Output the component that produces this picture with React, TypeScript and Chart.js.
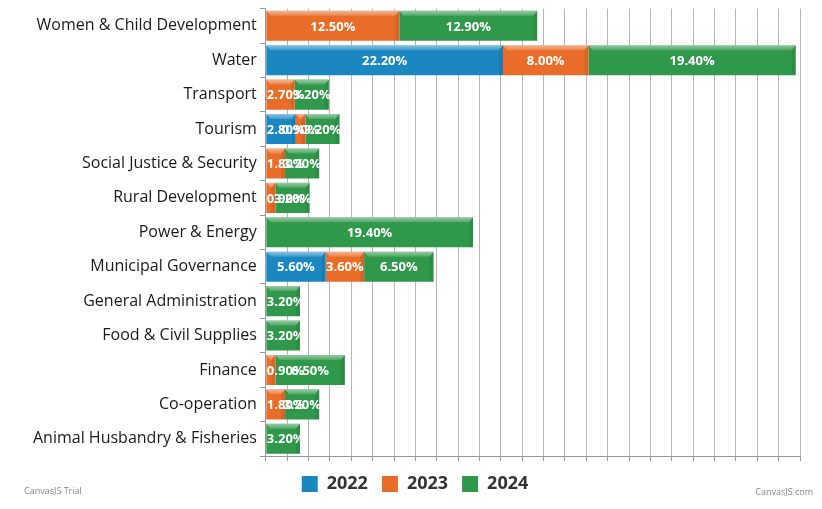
import React, { useEffect, useRef } from 'react';
import { Chart, registerables } from 'chart.js';

Chart.register(...registerables);

const categories = [
  'Women & Child Development',
  'Water',
  'Transport',
  'Tourism',
  'Social Justice & Security',
  'Rural Development',
  'Power & Energy',
  'Municipal Governance',
  'General Administration',
  'Food & Civil Supplies',
  'Finance',
  'Co-operation',
  'Animal Husbandry & Fisheries',
];

const values2022 = [0, 22.2, 0, 2.8, 0, 0, 0, 5.6, 0, 0, 0, 0, 0];
const values2023 = [12.5, 8.0, 2.7, 0.9, 1.8, 0.9, 0, 3.6, 0, 0, 0.9, 1.8, 0];
const values2024 = [12.9, 19.4, 3.2, 3.2, 3.2, 3.2, 19.4, 6.5, 3.2, 3.2, 6.5, 3.2, 3.2];

const seriesNames = ['2022', '2023', '2024'];
const seriesColors = ['#1a87c1', '#e96d28', '#30984a'];

const FONT = "'Open Sans', sans-serif";

// lighter top edge, like the bevel on the original bars
const bevelPlugin = {
  id: 'bevel',
  afterDatasetsDraw(chart: any) {
    const ctx = chart.ctx;
    chart.data.datasets.forEach((ds: any, i: number) => {
      const meta = chart.getDatasetMeta(i);
      meta.data.forEach((bar: any, j: number) => {
        if (!ds.data[j]) return;
        const left = Math.min(bar.base, bar.x);
        const right = Math.max(bar.base, bar.x);
        const top = bar.y - bar.height / 2;
        const bottom = bar.y + bar.height / 2;
        const d = Math.min(4, (right - left) / 2);
        ctx.save();
        const g = ctx.createLinearGradient(0, top, 0, top + 5);
        g.addColorStop(0, 'rgba(255,255,255,0.5)');
        g.addColorStop(1, 'rgba(255,255,255,0.15)');
        ctx.fillStyle = g;
        ctx.beginPath();
        ctx.moveTo(left, top);
        ctx.lineTo(right, top);
        ctx.lineTo(right - d, top + 5);
        ctx.lineTo(left + d, top + 5);
        ctx.closePath();
        ctx.fill();
        ctx.fillStyle = 'rgba(0,0,0,0.07)';
        ctx.beginPath();
        ctx.moveTo(right, top);
        ctx.lineTo(right, bottom);
        ctx.lineTo(right - d, bottom);
        ctx.lineTo(right - d, top + 5);
        ctx.closePath();
        ctx.fill();
        ctx.restore();
      });
    });
  },
};

// value labels centred in each segment, kept inside the plot area
const valueLabelPlugin = {
  id: 'valueLabels',
  afterDatasetsDraw(chart: any) {
    const ctx = chart.ctx;
    const area = chart.chartArea;
    ctx.save();
    ctx.font = `bold 13px ${FONT}`;
    ctx.fillStyle = '#ffffff';
    ctx.textAlign = 'center';
    ctx.textBaseline = 'middle';
    chart.data.datasets.forEach((ds: any, i: number) => {
      const meta = chart.getDatasetMeta(i);
      meta.data.forEach((bar: any, j: number) => {
        const v = ds.data[j];
        if (!v) return;
        const text = v.toFixed(2) + '%';
        const w = ctx.measureText(text).width;
        const x = Math.max((bar.x + bar.base) / 2, area.left + w / 2 + 1);
        ctx.fillText(text, x, bar.y + 1);
      });
    });
    ctx.restore();
  },
};

const creditPlugin = {
  id: 'credits',
  afterDraw(chart: any) {
    const ctx = chart.ctx;
    ctx.save();
    ctx.font = `9px ${FONT}`;
    ctx.fillStyle = '#888';
    ctx.textBaseline = 'middle';
    ctx.textAlign = 'left';
    ctx.fillText('CanvasJS Trial', 24, 495);
    ctx.textAlign = 'right';
    ctx.fillText('CanvasJS.com', 813, 496);
    ctx.restore();
  },
};

const App: React.FC = () => {
  const canvasRef = useRef<HTMLCanvasElement>(null);
  const chartRef = useRef<Chart | null>(null);

  useEffect(() => {
    if (!canvasRef.current) return;
    if (chartRef.current) chartRef.current.destroy();

    const seriesValues = [values2022, values2023, values2024];

    chartRef.current = new Chart(canvasRef.current, {
      type: 'bar',
      data: {
        labels: categories,
        datasets: seriesNames.map((name, i) => ({
          label: name,
          data: seriesValues[i],
          backgroundColor: seriesColors[i],
          borderWidth: 0,
          barPercentage: 0.874,
          categoryPercentage: 1,
        })),
      },
      options: {
        indexAxis: 'y',
        animation: false,
        responsive: true,
        maintainAspectRatio: false,
        layout: { padding: { top: 0, right: 22, left: 30, bottom: 6 } },
        scales: {
          x: {
            stacked: true,
            min: 0,
            max: 50,
            ticks: { display: false, stepSize: 2 },
            grid: { color: '#b5b5b5', tickLength: 5, tickColor: '#999' },
            border: { color: '#999' },
          },
          y: {
            stacked: true,
            ticks: { color: '#1a1a1a', font: { family: FONT, size: 16 }, padding: 3 },
            grid: { drawOnChartArea: false, tickLength: 6, tickColor: '#999' },
            border: { color: '#999' },
          },
        },
        plugins: {
          legend: {
            position: 'bottom',
            labels: {
              boxWidth: 16,
              boxHeight: 16,
              padding: 14,
              color: '#333',
              font: { family: FONT, size: 18, weight: 'bold' },
            },
          },
          tooltip: { enabled: false },
        },
      },
      plugins: [bevelPlugin, valueLabelPlugin, creditPlugin],
    });

    return () => {
      if (chartRef.current) {
        chartRef.current.destroy();
        chartRef.current = null;
      }
    };
  }, []);

  return (
    <div style={{ position: 'absolute', left: 0, top: -4, width: 822, height: 513 }}>
      <canvas ref={canvasRef} />
    </div>
  );
};

export default App;
